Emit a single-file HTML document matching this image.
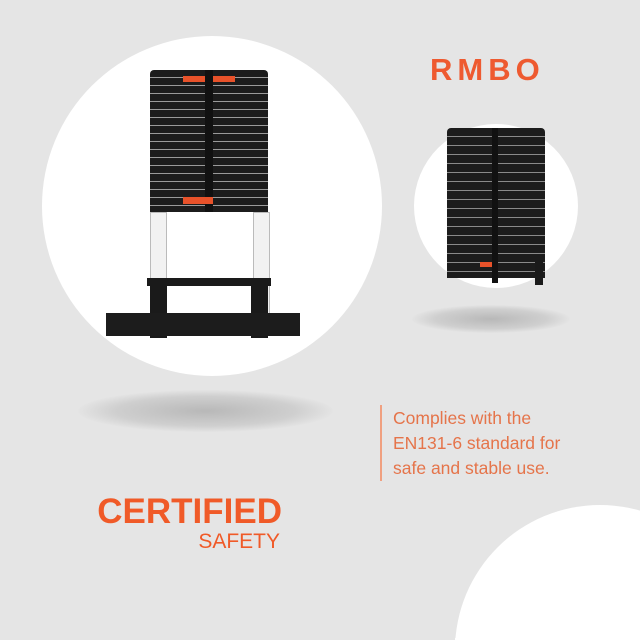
<!DOCTYPE html>
<html style="overflow:hidden;width:640px;height:640px"><head><style>
body{margin:0;width:640px;height:640px;overflow:hidden;background:#e5e5e5;font-family:"Liberation Sans",sans-serif}
#w{position:relative;width:640px;height:640px;overflow:hidden}
.a{position:absolute}
</style></head><body><div id="w">
<div class="a" style="left:42px;top:36px;width:340px;height:340px;border-radius:50%;background:#fff"></div>
<div class="a" style="left:414px;top:124px;width:164px;height:164px;border-radius:50%;background:#fff"></div>
<svg class="a" style="left:455px;top:505px;display:block" width="185" height="134"><circle cx="145" cy="145" r="145" fill="#fff"/></svg>
<div class="a" style="left:455px;top:638px;width:185px;height:2px;background:#fff"></div>
<div class="a" style="left:78px;top:390px;width:255px;height:42px;border-radius:50%;background:radial-gradient(ellipse,#b8b8b8 0%,#cfcfcf 50%,rgba(229,229,229,0) 72%)"></div>
<div class="a" style="left:412px;top:305px;width:158px;height:28px;border-radius:50%;background:radial-gradient(ellipse,#b8b8b8 0%,#cfcfcf 50%,rgba(229,229,229,0) 72%)"></div>

<div class="a" style="left:150px;top:70px;width:118px;height:142px;background:repeating-linear-gradient(#1c1c1c 0 7px,#9a9a9a 7px 8px);border-radius:4px 4px 0 0"></div>
<div class="a" style="left:183px;top:76px;width:52px;height:6px;background:#e8522a"></div>
<div class="a" style="left:205px;top:70px;width:8px;height:142px;background:#111"></div>
<div class="a" style="left:183px;top:197px;width:30px;height:7px;background:#e8522a"></div>
<div class="a" style="left:150px;top:212px;width:15px;height:100px;background:#f2f2f2;border:1px solid #bbb"></div>
<div class="a" style="left:253px;top:212px;width:15px;height:100px;background:#f2f2f2;border:1px solid #bbb"></div>
<div class="a" style="left:147px;top:278px;width:124px;height:8px;background:#1a1a1a"></div>
<div class="a" style="left:150px;top:285px;width:17px;height:53px;background:#1a1a1a"></div>
<div class="a" style="left:251px;top:285px;width:17px;height:53px;background:#1a1a1a"></div>
<div class="a" style="left:106px;top:313px;width:194px;height:23px;background:#1c1c1c"></div>

<div class="a" style="left:447px;top:128px;width:98px;height:150px;background:repeating-linear-gradient(#1c1c1c 0 8px,#8a8a8a 8px 9px);border-radius:4px 4px 0 0"></div>
<div class="a" style="left:492px;top:128px;width:6px;height:155px;background:#111"></div>
<div class="a" style="left:480px;top:262px;width:12px;height:5px;background:#e8522a"></div>
<div class="a" style="left:535px;top:260px;width:8px;height:25px;background:#1a1a1a"></div>

<div class="a" style="left:430px;top:52px;font-size:31px;font-weight:bold;color:#ee5a30;letter-spacing:5px">RMBO</div>

<div class="a" style="left:380px;top:405px;width:2px;height:76px;background:#f0a080"></div>
<div class="a" style="left:393px;top:406px;font-size:17.5px;line-height:25px;color:#e5744a">Complies with the<br>EN131-6 standard for<br>safe and stable use.</div>

<div class="a" style="left:60px;top:492px;width:222px;text-align:right;font-size:35px;font-weight:bold;color:#f05a28">CERTIFIED</div>
<div class="a" style="left:90px;top:530px;width:190px;text-align:right;font-size:21px;color:#f05a28">SAFETY</div>
</div></body></html>
